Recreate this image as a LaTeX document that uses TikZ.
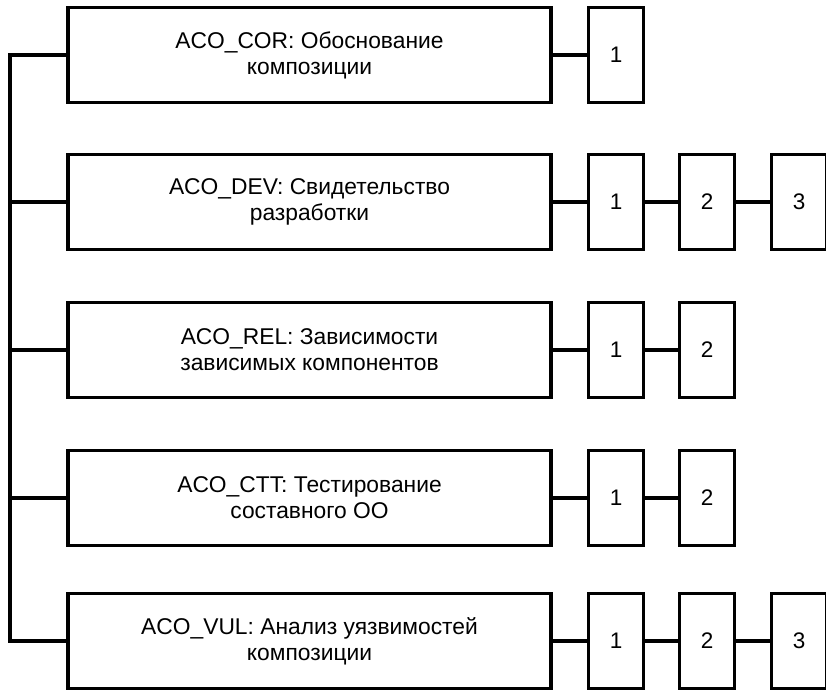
\documentclass[tikz,border=0pt]{standalone}
\usepackage{fontspec}
\setmainfont{Liberation Sans}
\begin{document}
\begin{tikzpicture}[x=1pt,y=-1pt,
  box/.style={draw=black, line width=3.5pt, fill=white, inner sep=0pt,
    minimum height=95pt},
  family/.style={box, minimum width=483pt, align=center,
    font=\fontsize{22.8}{26}\selectfont},
  comp/.style={box, minimum width=55pt, font=\fontsize{22.5}{26}\selectfont},
  link/.style={line width=3.5pt},
  spine/.style={line width=3.5pt, line join=miter}]
\useasboundingbox (0,0) rectangle (826,691);

% families of the composition class
\node[family] (cor) at (309.5,55)  {ACO\_COR: Обоснование\\композиции};
\node[family] (dev) at (309.5,202) {ACO\_DEV: Свидетельство\\разработки};
\node[family] (rel) at (309.5,350) {ACO\_REL: Зависимости\\зависимых компонентов};
\node[family] (ctt) at (309.5,498) {ACO\_CTT: Тестирование\\составного ОО};
\node[family] (vul) at (309.5,641) {ACO\_VUL: Анализ уязвимостей\\композиции};

% components of each family
\node[comp] (cor1) at (616,55)  {1};
\node[comp] (dev1) at (616,202) {1};
\node[comp] (dev2) at (707,202) {2};
\node[comp] (dev3) at (799,202) {3};
\node[comp] (rel1) at (616,350) {1};
\node[comp] (rel2) at (707,350) {2};
\node[comp] (ctt1) at (616,498) {1};
\node[comp] (ctt2) at (707,498) {2};
\node[comp] (vul1) at (616,641) {1};
\node[comp] (vul2) at (707,641) {2};
\node[comp] (vul3) at (799,641) {3};

% left-hand spine with its end branches as one path (clean corners)
\coordinate (top) at (10,55);
\coordinate (bot) at (10,641);
\draw[spine] (cor.west) -- (top) -- (bot) -- (vul.west);
\foreach \f in {dev,rel,ctt}
  \draw[link] (\f.west) -- (top |- \f.west);

% chains of components
\draw[link] (cor.east) -- (cor1.west);
\draw[link] (dev.east) -- (dev1.west) (dev1.east) -- (dev2.west) (dev2.east) -- (dev3.west);
\draw[link] (rel.east) -- (rel1.west) (rel1.east) -- (rel2.west);
\draw[link] (ctt.east) -- (ctt1.west) (ctt1.east) -- (ctt2.west);
\draw[link] (vul.east) -- (vul1.west) (vul1.east) -- (vul2.west) (vul2.east) -- (vul3.west);
\end{tikzpicture}
\end{document}
